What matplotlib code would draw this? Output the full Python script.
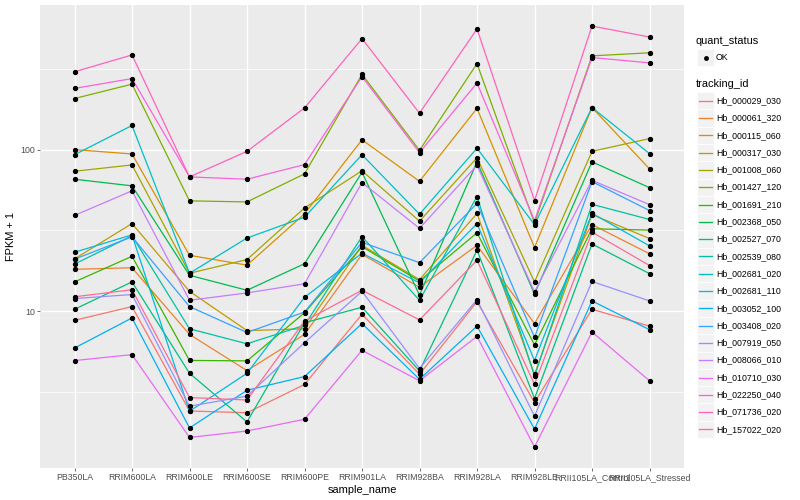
import numpy as np
import matplotlib
matplotlib.use("Agg")
import matplotlib.pyplot as plt
from matplotlib.patches import Rectangle
from matplotlib.lines import Line2D

plt.rcParams['font.family'] = ['Liberation Sans', 'DejaVu Sans']

samples = ['PB350LA', 'RRIM600LA', 'RRIM600LE', 'RRIM600SE', 'RRIM600PE', 'RRIM901LA',
           'RRIM928BA', 'RRIM928LA', 'RRIM928LE', 'RRII105LA_Control', 'RRII105LA_Stressed']

tracking_ids = ['Hb_000029_030', 'Hb_000061_320', 'Hb_000115_060', 'Hb_000317_030',
                'Hb_001008_060', 'Hb_001427_120', 'Hb_001691_210', 'Hb_002368_050',
                'Hb_002527_070', 'Hb_002539_080', 'Hb_002681_020', 'Hb_002681_110',
                'Hb_003052_100', 'Hb_003408_020', 'Hb_007919_050', 'Hb_008066_010',
                'Hb_010710_030', 'Hb_022250_040', 'Hb_071736_020', 'Hb_157022_020']

# FPKM + 1, one list per tracking id, in sample order
hb_000029_030 = [8.8, 10.7, 2.42, 2.36, 3.53, 9.6, 4.08, 11.5, 2.73, 10.3, 8.1]
hb_000061_320 = [18.2, 18.6, 7.2, 4.3, 7.2, 22.5, 14.1, 25.6, 8.4, 34.4, 22.7]
hb_000115_060 = [100, 94, 22.2, 19.3, 40.1, 115, 63.7, 180, 24.8, 182, 76]
hb_000317_030 = [21.1, 34.9, 13.3, 7.6, 7.8, 25.6, 15.7, 40.3, 4.07, 39.7, 28.2]
hb_001008_060 = [73.5, 80.4, 17.2, 20.9, 43.6, 74, 36.1, 89, 15.2, 97.6, 117]
hb_001427_120 = [207, 254, 48.2, 47.5, 70.8, 292, 99, 340, 35.2, 380, 397]
hb_001691_210 = [15.2, 21.9, 4.97, 4.94, 9.8, 25.1, 15.4, 30.6, 6.2, 32.4, 31.8]
hb_002368_050 = [65.6, 59.7, 16.7, 13.5, 19.7, 72.4, 12.6, 84, 12.8, 84, 58.2]
hb_002527_070 = [10.3, 15.2, 4.14, 2.07, 8.5, 10.6, 4.28, 23.9, 2.89, 26.1, 17.1]
hb_002539_080 = [19.6, 29.3, 7.8, 6.3, 8.2, 29, 11.7, 51.3, 3.97, 45.9, 37]
hb_002681_020 = [93, 141, 17.2, 28.4, 38.2, 93, 39.9, 102, 34.4, 182, 94.5]
hb_002681_110 = [23.2, 29.7, 2.41, 4.14, 12.2, 22.9, 15.0, 34.9, 4.96, 40.4, 25.4]
hb_003052_100 = [5.93, 9.1, 1.9, 3.25, 3.95, 8.4, 3.8, 8.1, 1.87, 11.6, 7.7]
hb_003408_020 = [21, 28.9, 10.7, 7.4, 9.9, 26.7, 20, 46.5, 6.9, 63.4, 42]
hb_007919_050 = [12.0, 12.7, 2.59, 2.99, 6.4, 13.3, 4.43, 11.8, 2.25, 15.3, 11.6]
hb_008066_010 = [39.2, 55.6, 11.7, 13.0, 14.8, 62.6, 32.6, 80, 13.2, 64.6, 45.7]
hb_010710_030 = [4.96, 5.4, 1.66, 1.82, 2.15, 5.74, 3.72, 7.0, 1.45, 7.45, 3.72]
hb_022250_040 = [239, 275, 67.8, 65.6, 80.8, 283, 95.8, 258, 36.4, 371, 344]
hb_071736_020 = [303, 385, 67.8, 97.6, 181, 486, 168, 558, 48.4, 581, 497]
hb_157022_020 = [12.3, 13.6, 2.93, 2.83, 8.7, 13.5, 8.85, 20.7, 3.54, 30.9, 19.2]

series = [hb_000029_030, hb_000061_320, hb_000115_060, hb_000317_030, hb_001008_060,
          hb_001427_120, hb_001691_210, hb_002368_050, hb_002527_070, hb_002539_080,
          hb_002681_020, hb_002681_110, hb_003052_100, hb_003408_020, hb_007919_050,
          hb_008066_010, hb_010710_030, hb_022250_040, hb_071736_020, hb_157022_020]

# ggplot default hue palette for 20 levels
colors = ['#F8766D', '#EA8331', '#D89000', '#C09B00', '#A3A500', '#7CAE00', '#39B600',
          '#00BB4E', '#00BF7D', '#00C1A3', '#00BFC4', '#00BAE0', '#00B0F6', '#35A2FF',
          '#9590FF', '#C77CFF', '#E76BF3', '#FA62DB', '#FF62BC', '#FF6C91']

fig = plt.figure(figsize=(8, 5), dpi=100)
ax = fig.add_axes([40 / 800, 32 / 500, 644 / 800, 463 / 500])
ax.set_facecolor('#EBEBEB')

x = np.arange(len(samples))
for vals, col in zip(series, colors):
    ax.plot(x, vals, color=col, lw=0.9, zorder=3)
for vals in series:
    ax.plot(x, vals, 'o', color='black', ms=2.8, zorder=4)

ax.set_yscale('log')
allv = np.log10(np.concatenate([np.array(s) for s in series]))
lo, hi = allv.min(), allv.max()
pad = 0.05 * (hi - lo)
ax.set_ylim(10 ** (lo - pad), 10 ** (hi + pad))
ax.set_xlim(-0.6, len(samples) - 0.4)

ax.set_yticks([10, 100])
ax.set_yticklabels(['10', '100'])
ax.set_yticks([10 ** 0.5, 10 ** 1.5, 10 ** 2.5], minor=True)
ax.yaxis.set_minor_formatter(matplotlib.ticker.NullFormatter())
ax.set_xticks(x)
ax.set_xticklabels(samples)

ax.grid(True, which='major', color='white', lw=1.0, zorder=0)
ax.grid(True, which='minor', axis='y', color='white', lw=0.5, zorder=0)
ax.set_axisbelow(True)
for s in ax.spines.values():
    s.set_visible(False)

ax.tick_params(which='major', length=2.0, width=0.5, color='#333333', pad=1.6,
               labelsize=6.3, labelcolor='#4D4D4D')
ax.tick_params(which='minor', length=0)
ax.set_xlabel('sample_name', fontsize=7.9, labelpad=2.5)
ax.set_ylabel('FPKM + 1', fontsize=7.9, labelpad=3)

# legends, drawn ggplot-style in pixel coords
lg = fig.add_axes([0, 0, 1, 1])
lg.set_xlim(0, 800)
lg.set_ylim(500, 0)
lg.axis('off')
lg.patch.set_alpha(0)

lg.text(696, 40.5, 'quant_status', fontsize=7.9, va='center', ha='left')
lg.add_patch(Rectangle((697, 49), 17, 17, facecolor='#F2F2F2', edgecolor='white', lw=0.5))
lg.plot([705.5], [57.5], 'o', color='black', ms=2.5)
lg.text(716, 57.5, 'OK', fontsize=6.3, va='center', ha='left')

lg.text(696, 84, 'tracking_id', fontsize=7.9, va='center', ha='left')
step = 17.3
for i, (tid, col) in enumerate(zip(tracking_ids, colors)):
    cy = 100.7 + i * step
    lg.add_patch(Rectangle((697, cy - step / 2), 17, step, facecolor='#F2F2F2',
                           edgecolor='white', lw=0.5))
    lg.add_line(Line2D([699, 712], [cy, cy], color=col, lw=0.95))
    lg.text(716, cy, tid, fontsize=6.3, va='center', ha='left')

fig.savefig('out.png', dpi=100)
